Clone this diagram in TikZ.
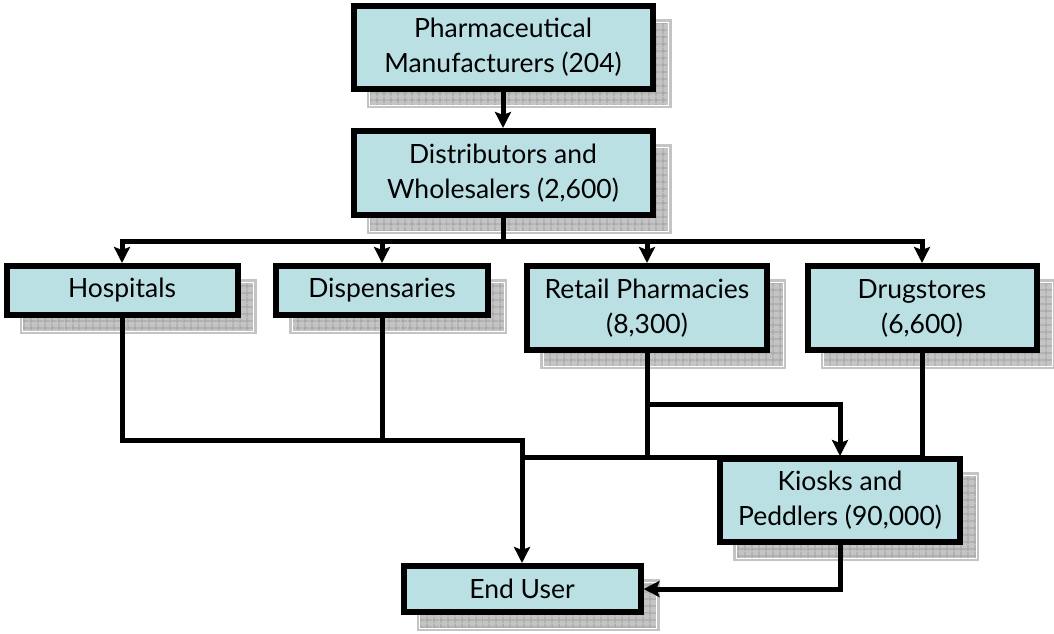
\documentclass[tikz,border=0pt]{standalone}
\usepackage{fontspec}
\setmainfont{Lato}
\usetikzlibrary{arrows.meta,shadows,patterns.meta}
\definecolor{boxfill}{RGB}{187,224,227}
\definecolor{shadefill}{RGB}{196,196,196}

\begin{document}
\begin{tikzpicture}[x=1pt,y=-1pt,
    box/.style={draw,line width=6pt,fill=boxfill,align=center,inner sep=0pt,
        font=\fontsize{26.5}{35}\selectfont,
        general shadow={fill=shadefill,draw=shadefill,line width=6pt,shadow xshift=16pt,shadow yshift=-16pt},
        general shadow={pattern={Lines[distance=6.5pt,angle=0,line width=.7pt]},pattern color=gray!85,shadow xshift=16pt,shadow yshift=-16pt},
        general shadow={pattern={Lines[distance=6.5pt,angle=90,line width=.7pt]},pattern color=gray!85,shadow xshift=16pt,shadow yshift=-16pt},
        general shadow={draw=white,line width=.8pt,shadow xshift=16pt,shadow yshift=-16pt}},
    line/.style={line width=5pt},
    arr/.style={line width=5pt,-{Stealth[length=16pt,width=16pt,inset=3pt]}}]
    \useasboundingbox (0,0) rectangle (1054,633);

    % boxes
    \node[box,minimum width=299pt,minimum height=83pt] (pharma) at (503,47.5) {Pharmaceutical\\Manufacturers (204)};
    \node[box,minimum width=299pt,minimum height=84pt] (distrib) at (503,173) {Distributors and\\Wholesalers (2,600)};
    \node[box,minimum width=231pt,minimum height=49pt] (hosp) at (122,290.5) {Hospitals};
    \node[box,minimum width=212pt,minimum height=49pt] (disp) at (382,290.5) {Dispensaries};
    \node[box,minimum width=240pt,minimum height=84pt] (retail) at (647,308) {Retail Pharmacies\\(8,300)};
    \node[box,minimum width=229pt,minimum height=84pt] (drug) at (922,308) {Drugstores\\(6,600)};
    \node[box,minimum width=237pt,minimum height=46pt] (enduser) at (522,589) {End User};

    \coordinate (bus) at (503,241);
    \coordinate (join) at (522,440);
    \coordinate (lower) at (522,457);
    \coordinate (branch) at (647,404);

    % connectors
    \draw[arr] (pharma) -- (distrib);
    \draw[line] (distrib) -- (bus);
    \foreach \n in {hosp,disp,retail,drug}
        \draw[arr] (bus) -| (\n);
    \draw[arr] (hosp) |- (join) -- (enduser);
    \draw[line] (disp) -- (disp |- join);
    \draw[line] (retail) -- (retail |- lower);
    \draw[line] (lower) -- (922,457) coordinate (lowerend);
    \draw[line] (lowerend) -- (drug);
    \draw[arr] (retail |- branch) -| (840,456);

    % kiosks drawn last, over the lines
    \node[box,minimum width=240pt,minimum height=83pt] (kiosk) at (840,500.5) {Kiosks and\\Peddlers (90,000)};
    \draw[arr] (kiosk) |- (enduser);
\end{tikzpicture}
\end{document}
